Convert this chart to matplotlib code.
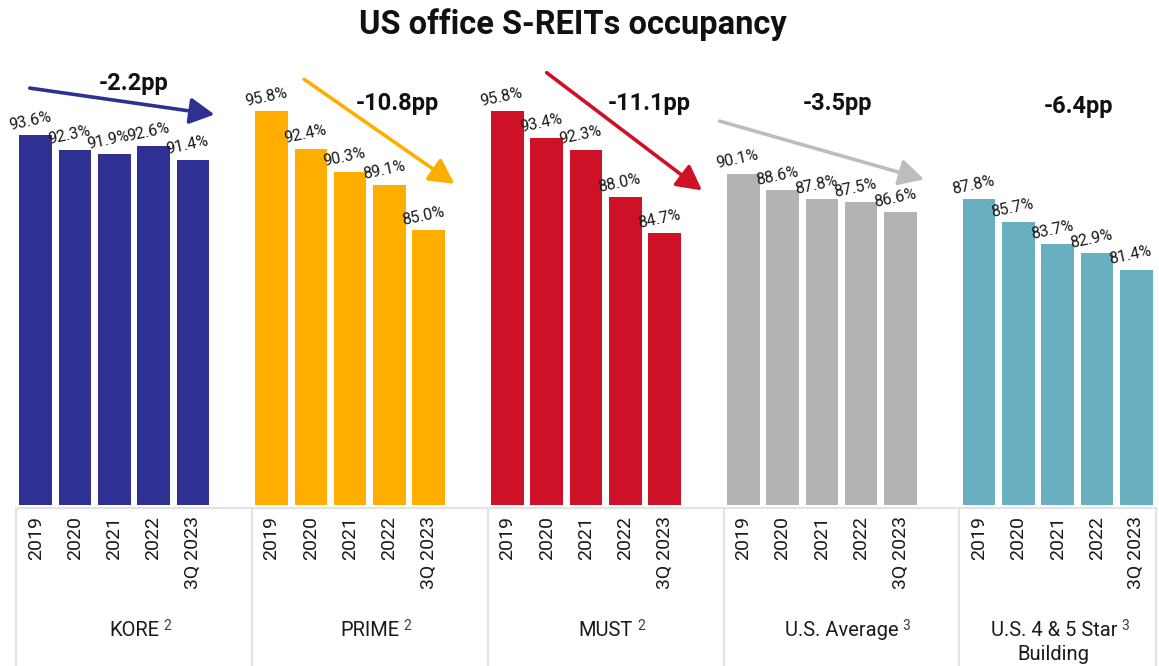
import matplotlib
matplotlib.use("Agg")
import matplotlib.pyplot as plt
import matplotlib.transforms as mtransforms
from matplotlib.lines import Line2D

# ---- data ----
groups = ["KORE", "PRIME", "MUST", "U.S. Average", "U.S. 4 & 5 Star\nBuilding"]
group_notes = ["2", "2", "2", "3", "3"]
periods = ["2019", "2020", "2021", "2022", "3Q 2023"]
kore = [93.6, 92.3, 91.9, 92.6, 91.4]
prime = [95.8, 92.4, 90.3, 89.1, 85.0]
must = [95.8, 93.4, 92.3, 88.0, 84.7]
us_avg = [90.1, 88.6, 87.8, 87.5, 86.6]
us_45 = [87.8, 85.7, 83.7, 82.9, 81.4]
series = [kore, prime, must, us_avg, us_45]
colors = ["#2E3192", "#FFAE00", "#CE1126", "#B3B3B3", "#6AAFBF"]
arrow_colors = ["#2E3192", "#FFAE00", "#CE1126", "#BDBDBD", "#6AAFBF"]

# arrow start/end (slot, value) and pp-label anchor positions
arrow_pts = [((-0.15, 97.9), (4.55, 95.5)),
             ((6.83, 98.7), (10.65, 89.2)),
             ((13.0, 99.3), (16.95, 88.6)),
             ((17.4, 94.9), (22.6, 89.6)),
             ((24.2, 92.9), (28.6, 84.9))]
pp_pos = [(2.48, 98.3), (9.19, 96.5), (15.61, 96.5), (20.39, 96.5), (26.52, 96.2)]
label_centers = [2.5, 8.5, 14.5, 20.5, 25.9]

W, H = 1159, 666
fig = plt.figure(figsize=(W / 100, H / 100), dpi=100)
plt.rcParams['font.family'] = ['Roboto', 'DejaVu Sans']

ax = fig.add_axes([16 / W, (H - 505) / H, 1140 / W, 505 / H])
ax.set_xlim(-0.5, 28.5)
ax.set_ylim(60, 60 + 505 / 11.0)
for s in ax.spines.values():
    s.set_visible(False)
ax.set_yticks([])

xticks, xlabels = [], []
for g, vals in enumerate(series):
    xs = [6 * g + i for i in range(len(vals))]
    ax.bar(xs, [v - 60 for v in vals], bottom=60, width=0.83, color=colors[g], zorder=2)
    for x, v in zip(xs, vals):
        ax.annotate(f"{v:.1f}%", xy=(x, v), xytext=(-3, 5), textcoords="offset points",
                    ha="center", va="bottom", rotation=12, rotation_mode="anchor",
                    fontsize=11.5, color="#1a1a1a")
    xticks += xs
    xlabels += periods
    (x0, y0), (x1, y1) = arrow_pts[g]
    ax.annotate("", xy=(x1, y1), xytext=(x0, y0),
                arrowprops=dict(arrowstyle="-|>,head_length=0.75,head_width=0.4", lw=2.6,
                                color=arrow_colors[g], mutation_scale=20,
                                shrinkA=0, shrinkB=0))
    pp = vals[-1] - vals[0]
    px, py = pp_pos[g]
    ax.text(px, py, f"{pp:.1f}pp", ha="center", va="center", fontsize=17,
            fontweight="bold", color="#111111")

ax.set_xticks(xticks)
ax.set_xticklabels(xlabels, rotation=90, fontsize=14, color="#1a1a1a", va="top")
ax.tick_params(axis="x", length=0, pad=8)

# category box lines
blend = mtransforms.blended_transform_factory(ax.transData, fig.transFigure)
ytop = (H - 508) / H
fig.add_artist(Line2D([-0.5, 28.5], [ytop, ytop], transform=blend, color="#E3E3E3", lw=1.5))
for xb in [-0.5, 5.5, 11.5, 17.5, 23.5, 28.5]:
    fig.add_artist(Line2D([xb, xb], [0, ytop], transform=blend, color="#E3E3E3", lw=1.5))

# group labels with superscript notes
for g, name in enumerate(groups):
    lines = name.split("\n")
    t = ax.text(label_centers[g], (H - 630) / H, lines[0], transform=blend,
                ha="center", va="center", fontsize=14.5, color="#1a1a1a")
    ax.annotate(group_notes[g], xy=(1, 1), xycoords=t, xytext=(3, 1),
                textcoords="offset points", ha="left", va="top",
                fontsize=10, color="#3a4050")
    for k, extra in enumerate(lines[1:], start=1):
        ax.text(label_centers[g], (H - 630 - 25 * k) / H, extra, transform=blend,
                ha="center", va="center", fontsize=14.5, color="#1a1a1a")

fig.text(573 / W, (H - 25) / H, "US office S-REITs occupancy", ha="center", va="center",
         fontsize=23.5, fontweight="bold", color="#111111")

fig.savefig("out.png", dpi=100)
